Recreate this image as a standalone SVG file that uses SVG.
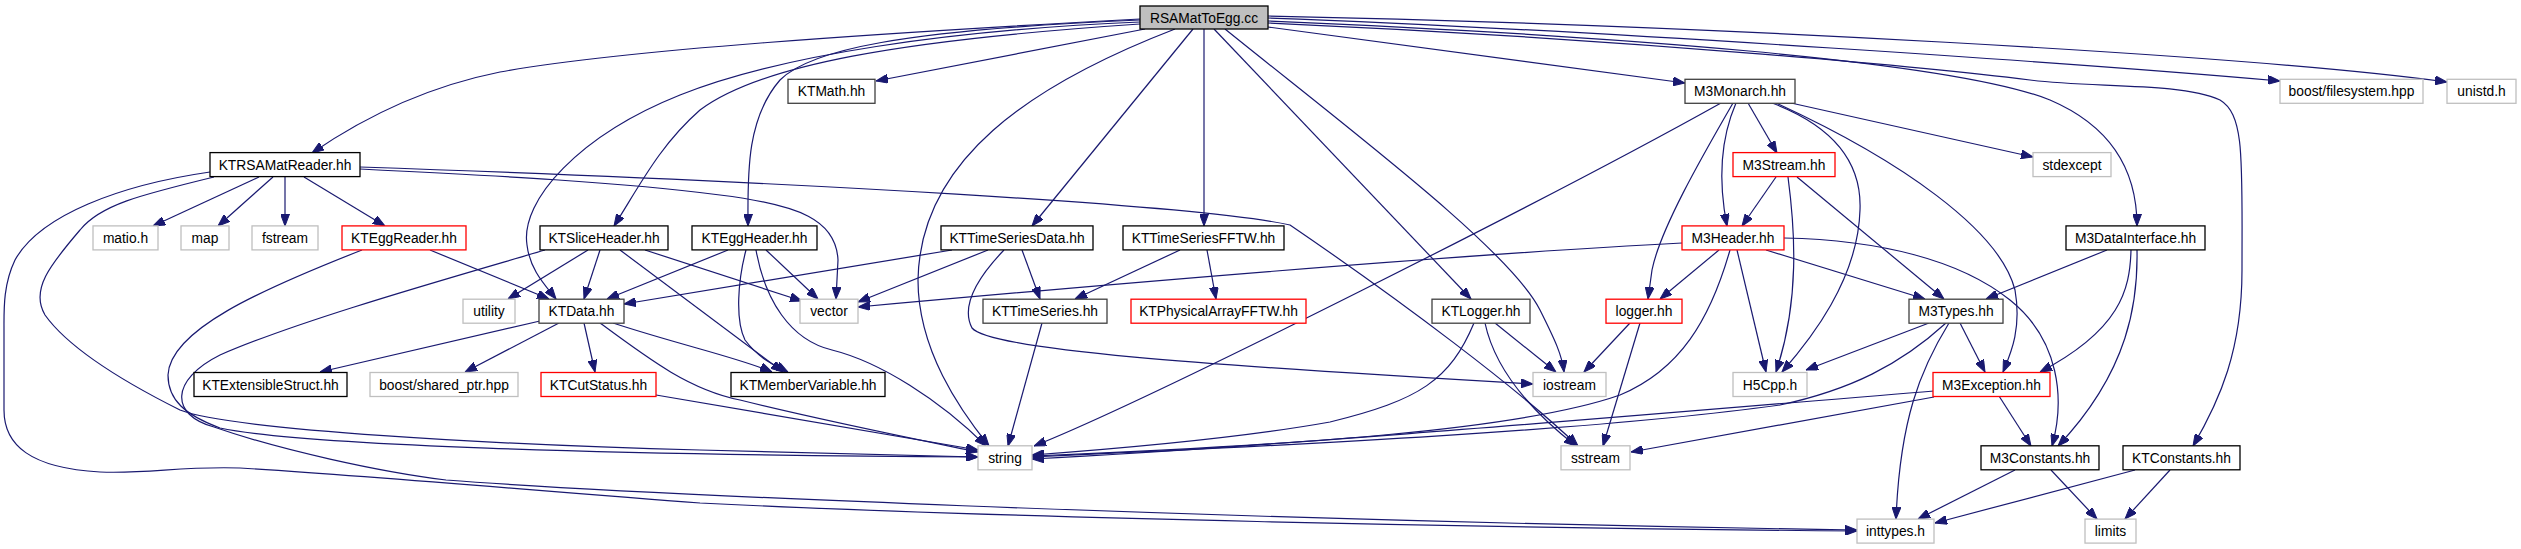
<svg xmlns="http://www.w3.org/2000/svg" width="2521" height="549" viewBox="0 0 2521 549">
<defs>
<marker id="a" viewBox="0 0 12 9" refX="12" refY="4.5" markerWidth="12" markerHeight="9" markerUnits="userSpaceOnUse" orient="auto">
<path d="M0,0 L12,4.5 L0,9 z" fill="#191970" stroke="#191970" stroke-width="1"/>
</marker>
</defs>
<style>
rect{fill:#fff;stroke:#000;stroke-width:1.3}
.d rect{stroke:#404040}
.g rect{stroke:#bfbfbf}
.r rect{stroke:#ff0000}
.root rect{fill:#bfbfbf;stroke:#000}
text{font-family:"Liberation Sans",Arial,sans-serif;font-size:13.8px;fill:#000;text-anchor:middle}
#edges path{fill:none;stroke:#191970;stroke-width:1.2;marker-end:url(#a)}
</style>
<rect x="0" y="0" width="2521" height="549" style="fill:#fff;stroke:none"/>
<g id="edges">
<path d="M1140,19 C880,33 620,50 500,72 C420,88 360,120 312,153"/>
<path d="M1145,29 L876,81"/>
<path d="M1140,24 C900,40 760,65 700,110 C660,145 640,185 614,226"/>
<path d="M1140,22 C950,30 780,55 680,95 C580,135 520,200 527,245 C530,270 545,285 556,299"/>
<path d="M1140,20 C900,30 810,50 780,80 C745,120 748,180 748,226"/>
<path d="M1175,29 C1030,85 920,160 918,280 C918,350 960,410 989,446"/>
<path d="M1193,29 L1032,226"/>
<path d="M1204,29 L1204,226"/>
<path d="M1214,29 L1471,299"/>
<path d="M1225,29 C1350,130 1510,250 1540,310 C1555,340 1562,355 1564,372"/>
<path d="M1268,27 L1685,83"/>
<path d="M1268,18 C1600,30 2100,65 2280,81"/>
<path d="M1268,16 C1700,25 2250,55 2447,82"/>
<path d="M1268,21 C1600,35 1950,60 2050,100 C2120,130 2137,180 2137,226"/>
<path d="M1268,23 C1650,40 1950,70 2030,80 C2090,88 2180,82 2220,100 C2245,115 2242,160 2242,270 C2242,350 2220,400 2193,446"/>
<path d="M259,177 L153,226"/>
<path d="M273,177 L218,226"/>
<path d="M285,177 L285,226"/>
<path d="M304,177 L385,226"/>
<path d="M360,169 C500,176 620,182 720,195 C800,205 836,220 838,260 L836,299"/>
<path d="M360,167 C800,182 1200,205 1290,225 C1400,300 1520,390 1578,446"/>
<path d="M214,177 C140,195 100,205 80,230 C50,265 30,290 45,315 C70,350 130,385 180,410 C230,430 500,445 700,450 C850,453 930,456 978,457"/>
<path d="M210,172 C120,185 40,215 15,260 C3,285 4,310 4,330 L4,410 C4,445 30,468 100,472 C150,474 180,466 240,468 C400,478 550,492 700,503 C1000,518 1500,528 1857,531"/>
<path d="M430,250 L549,299"/>
<path d="M362,250 C260,290 170,330 168,375 C168,400 185,415 220,428 C300,445 600,455 978,457"/>
<path d="M545,250 C450,278 300,320 220,355 C170,380 170,415 214,427 C280,450 380,472 446,480 C600,492 1200,520 1857,530"/>
<path d="M588,250 L508,299"/>
<path d="M600,250 L584,299"/>
<path d="M645,250 L802,301"/>
<path d="M620,250 L783,372"/>
<path d="M728,250 L607,299"/>
<path d="M766,250 L818,299"/>
<path d="M746,250 C738,280 735,320 745,340 C760,360 775,365 788,372"/>
<path d="M756,250 C765,300 790,340 832,350 C880,362 940,400 986,446"/>
<path d="M952,250 L624,304"/>
<path d="M988,250 L858,302"/>
<path d="M1004,250 C980,275 960,305 972,328 C990,350 1200,365 1533,384"/>
<path d="M1022,250 L1040,299"/>
<path d="M1180,250 L1075,299"/>
<path d="M1207,250 L1216,299"/>
<path d="M1042,323 L1008,446"/>
<path d="M540,321 L320,372"/>
<path d="M559,323 L465,372"/>
<path d="M584,323 L595,372"/>
<path d="M613,323 C680,345 740,358 772,372"/>
<path d="M600,323 C650,360 690,390 740,400 C820,420 920,440 978,452"/>
<path d="M656,395 L978,450"/>
<path d="M1495,323 L1556,372"/>
<path d="M1485,323 C1495,370 1530,410 1576,446"/>
<path d="M1474,323 C1450,380 1420,400 1330,422 C1230,440 1100,450 1032,455"/>
<path d="M1630,323 L1584,372"/>
<path d="M1640,323 L1603,446"/>
<path d="M1721,103 C1560,193 1150,400 1034,446"/>
<path d="M1733,103 C1700,160 1660,230 1652,270 L1648,299"/>
<path d="M1736,103 C1720,140 1718,180 1727,226"/>
<path d="M1748,103 L1777,153"/>
<path d="M1772,103 C1830,125 1862,160 1860,210 C1858,280 1810,340 1782,372"/>
<path d="M1776,103 C1900,160 2000,230 2015,290 C2022,330 2010,355 2003,372"/>
<path d="M1791,103 L2033,157"/>
<path d="M1776,177 L1742,226"/>
<path d="M1788,177 C1795,230 1800,300 1776,372"/>
<path d="M1797,177 L1944,299"/>
<path d="M1682,243 C1450,255 1100,285 858,307"/>
<path d="M1719,250 L1660,299"/>
<path d="M1730,250 C1710,320 1680,370 1620,395 C1520,430 1300,445 1032,456"/>
<path d="M1737,250 L1766,372"/>
<path d="M1766,250 L1925,299"/>
<path d="M1784,238 C1880,240 1960,260 2010,300 C2060,340 2065,400 2052,446"/>
<path d="M2107,250 L1986,299"/>
<path d="M2131,250 C2130,290 2120,330 2040,372"/>
<path d="M2137,250 C2138,300 2130,370 2058,446"/>
<path d="M1929,323 L1806,370"/>
<path d="M1946,323 C1900,365 1850,390 1780,405 C1600,430 1300,445 1032,457"/>
<path d="M1949,323 C1920,370 1900,420 1896,519"/>
<path d="M1960,323 L1985,372"/>
<path d="M1934,391 C1700,410 1300,445 1032,459"/>
<path d="M1934,397 L1631,452"/>
<path d="M1999,396 L2031,446"/>
<path d="M2015,470 L1918,519"/>
<path d="M2051,470 L2097,519"/>
<path d="M2135,470 L1935,523"/>
<path d="M2170,470 L2125,519"/>
</g>
<g id="n_root" class="root"><rect x="1140" y="6" width="128" height="23"/><text x="1204" y="22.5">RSAMatToEgg.cc</text></g>
<g id="n_ktmath" class="d"><rect x="788" y="79.3" width="87" height="24"/><text x="831.5" y="96.3">KTMath.hh</text></g>
<g id="n_m3monarch" class="d"><rect x="1685" y="79.3" width="110" height="24"/><text x="1740" y="96.3">M3Monarch.hh</text></g>
<g id="n_boostfs" class="g"><rect x="2280" y="79.3" width="143" height="24"/><text x="2351.5" y="96.3">boost/filesystem.hpp</text></g>
<g id="n_unistd" class="g"><rect x="2447" y="79.3" width="69" height="24"/><text x="2481.5" y="96.3">unistd.h</text></g>
<g id="n_ktrsamatreader"><rect x="210" y="152.6" width="150" height="24"/><text x="285" y="169.6">KTRSAMatReader.hh</text></g>
<g id="n_m3stream" class="r"><rect x="1733" y="152.6" width="102" height="24"/><text x="1784" y="169.6">M3Stream.hh</text></g>
<g id="n_stdexcept" class="g"><rect x="2033" y="152.6" width="78" height="24"/><text x="2072" y="169.6">stdexcept</text></g>
<g id="n_matio" class="g"><rect x="93" y="225.9" width="65" height="24"/><text x="125.5" y="242.9">matio.h</text></g>
<g id="n_map" class="g"><rect x="181" y="225.9" width="48" height="24"/><text x="205" y="242.9">map</text></g>
<g id="n_fstream" class="g"><rect x="252" y="225.9" width="66" height="24"/><text x="285" y="242.9">fstream</text></g>
<g id="n_kteggreader" class="r"><rect x="342" y="225.9" width="124" height="24"/><text x="404" y="242.9">KTEggReader.hh</text></g>
<g id="n_ktsliceheader"><rect x="540" y="225.9" width="128" height="24"/><text x="604" y="242.9">KTSliceHeader.hh</text></g>
<g id="n_kteggheader"><rect x="692" y="225.9" width="125" height="24"/><text x="754.5" y="242.9">KTEggHeader.hh</text></g>
<g id="n_kttimeseriesdata"><rect x="941" y="225.9" width="152" height="24"/><text x="1017" y="242.9">KTTimeSeriesData.hh</text></g>
<g id="n_kttimeseriesfftw"><rect x="1123" y="225.9" width="161" height="24"/><text x="1203.5" y="242.9">KTTimeSeriesFFTW.hh</text></g>
<g id="n_m3header" class="r"><rect x="1682" y="225.9" width="102" height="24"/><text x="1733" y="242.9">M3Header.hh</text></g>
<g id="n_m3datainterface"><rect x="2066" y="225.9" width="139" height="24"/><text x="2135.5" y="242.9">M3DataInterface.hh</text></g>
<g id="n_utility" class="g"><rect x="463" y="299.2" width="52" height="24"/><text x="489" y="316.2">utility</text></g>
<g id="n_ktdata" class="d"><rect x="539" y="299.2" width="85" height="24"/><text x="581.5" y="316.2">KTData.hh</text></g>
<g id="n_vector" class="g"><rect x="800" y="299.2" width="58" height="24"/><text x="829" y="316.2">vector</text></g>
<g id="n_kttimeseries" class="d"><rect x="983" y="299.2" width="124" height="24"/><text x="1045" y="316.2">KTTimeSeries.hh</text></g>
<g id="n_ktphysicalarrayfftw" class="r"><rect x="1131" y="299.2" width="175" height="24"/><text x="1218.5" y="316.2">KTPhysicalArrayFFTW.hh</text></g>
<g id="n_ktlogger" class="d"><rect x="1432" y="299.2" width="98" height="24"/><text x="1481" y="316.2">KTLogger.hh</text></g>
<g id="n_logger" class="r"><rect x="1606" y="299.2" width="76" height="24"/><text x="1644" y="316.2">logger.hh</text></g>
<g id="n_m3types" class="d"><rect x="1909" y="299.2" width="94" height="24"/><text x="1956" y="316.2">M3Types.hh</text></g>
<g id="n_ktextensiblestruct"><rect x="194" y="372.5" width="153" height="24"/><text x="270.5" y="389.5">KTExtensibleStruct.hh</text></g>
<g id="n_boostsharedptr" class="g"><rect x="370" y="372.5" width="148" height="24"/><text x="444" y="389.5">boost/shared_ptr.hpp</text></g>
<g id="n_ktcutstatus" class="r"><rect x="541" y="372.5" width="115" height="24"/><text x="598.5" y="389.5">KTCutStatus.hh</text></g>
<g id="n_ktmembervariable"><rect x="731" y="372.5" width="154" height="24"/><text x="808" y="389.5">KTMemberVariable.hh</text></g>
<g id="n_iostream" class="g"><rect x="1533" y="372.5" width="73" height="24"/><text x="1569.5" y="389.5">iostream</text></g>
<g id="n_h5cpp" class="g"><rect x="1733" y="372.5" width="74" height="24"/><text x="1770" y="389.5">H5Cpp.h</text></g>
<g id="n_m3exception" class="r"><rect x="1933" y="372.5" width="117" height="24"/><text x="1991.5" y="389.5">M3Exception.hh</text></g>
<g id="n_string" class="g"><rect x="978" y="445.8" width="54" height="24"/><text x="1005" y="462.8">string</text></g>
<g id="n_sstream" class="g"><rect x="1561" y="445.8" width="69" height="24"/><text x="1595.5" y="462.8">sstream</text></g>
<g id="n_m3constants"><rect x="1981" y="445.8" width="118" height="24"/><text x="2040" y="462.8">M3Constants.hh</text></g>
<g id="n_ktconstants"><rect x="2123" y="445.8" width="117" height="24"/><text x="2181.5" y="462.8">KTConstants.hh</text></g>
<g id="n_inttypes" class="g"><rect x="1857" y="519.1" width="77" height="24"/><text x="1895.5" y="536.1">inttypes.h</text></g>
<g id="n_limits" class="g"><rect x="2085" y="519.1" width="51" height="24"/><text x="2110.5" y="536.1">limits</text></g>
</svg>
